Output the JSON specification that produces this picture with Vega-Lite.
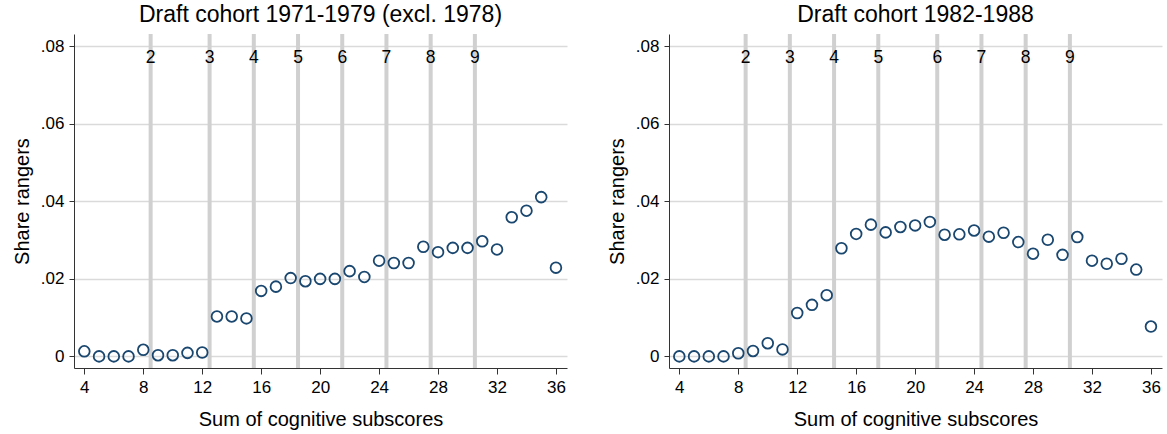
{
 "$schema": "https://vega.github.io/schema/vega-lite/v6.json",
 "padding": {"left": 12, "top": 4, "right": 5, "bottom": 5},
 "spacing": 40,
 "config": {
  "view": {"stroke": null},
  "font": "Liberation Sans",
  "title": {"fontSize": 23, "fontWeight": "normal", "color": "#000000", "offset": 5},
  "axis": {"labelFont": "Liberation Sans", "titleFont": "Liberation Sans", "labelColor": "#000000", "titleColor": "#000000", "titleFontWeight": "normal", "domainColor": "#333333", "tickColor": "#333333", "labelFontSize": 17, "titleFontSize": 20}
 },
 "datasets": {
  "pts": [
   {"cohort": "A", "score": 4, "share": 0.0013}, {"cohort": "A", "score": 5, "share": 0.0}, {"cohort": "A", "score": 6, "share": 0.0}, {"cohort": "A", "score": 7, "share": 0.0}, {"cohort": "A", "score": 8, "share": 0.0017}, {"cohort": "A", "score": 9, "share": 0.0003}, {"cohort": "A", "score": 10, "share": 0.0003}, {"cohort": "A", "score": 11, "share": 0.0009}, {"cohort": "A", "score": 12, "share": 0.001}, {"cohort": "A", "score": 13, "share": 0.0103}, {"cohort": "A", "score": 14, "share": 0.0103}, {"cohort": "A", "score": 15, "share": 0.0098}, {"cohort": "A", "score": 16, "share": 0.0169}, {"cohort": "A", "score": 17, "share": 0.018}, {"cohort": "A", "score": 18, "share": 0.0202}, {"cohort": "A", "score": 19, "share": 0.0194}, {"cohort": "A", "score": 20, "share": 0.02}, {"cohort": "A", "score": 21, "share": 0.02}, {"cohort": "A", "score": 22, "share": 0.022}, {"cohort": "A", "score": 23, "share": 0.0205}, {"cohort": "A", "score": 24, "share": 0.0247}, {"cohort": "A", "score": 25, "share": 0.0241}, {"cohort": "A", "score": 26, "share": 0.0241}, {"cohort": "A", "score": 27, "share": 0.0283}, {"cohort": "A", "score": 28, "share": 0.0269}, {"cohort": "A", "score": 29, "share": 0.028}, {"cohort": "A", "score": 30, "share": 0.028}, {"cohort": "A", "score": 31, "share": 0.0297}, {"cohort": "A", "score": 32, "share": 0.0276}, {"cohort": "A", "score": 33, "share": 0.0359}, {"cohort": "A", "score": 34, "share": 0.0376}, {"cohort": "A", "score": 35, "share": 0.0411}, {"cohort": "A", "score": 36, "share": 0.0229},
   {"cohort": "B", "score": 4, "share": 0.0}, {"cohort": "B", "score": 5, "share": 0.0}, {"cohort": "B", "score": 6, "share": 0.0}, {"cohort": "B", "score": 7, "share": 0.0}, {"cohort": "B", "score": 8, "share": 0.0008}, {"cohort": "B", "score": 9, "share": 0.0014}, {"cohort": "B", "score": 10, "share": 0.0034}, {"cohort": "B", "score": 11, "share": 0.0018}, {"cohort": "B", "score": 12, "share": 0.0112}, {"cohort": "B", "score": 13, "share": 0.0133}, {"cohort": "B", "score": 14, "share": 0.0158}, {"cohort": "B", "score": 15, "share": 0.0279}, {"cohort": "B", "score": 16, "share": 0.0316}, {"cohort": "B", "score": 17, "share": 0.034}, {"cohort": "B", "score": 18, "share": 0.032}, {"cohort": "B", "score": 19, "share": 0.0334}, {"cohort": "B", "score": 20, "share": 0.0338}, {"cohort": "B", "score": 21, "share": 0.0347}, {"cohort": "B", "score": 22, "share": 0.0314}, {"cohort": "B", "score": 23, "share": 0.0315}, {"cohort": "B", "score": 24, "share": 0.0325}, {"cohort": "B", "score": 25, "share": 0.0309}, {"cohort": "B", "score": 26, "share": 0.0319}, {"cohort": "B", "score": 27, "share": 0.0295}, {"cohort": "B", "score": 28, "share": 0.0265}, {"cohort": "B", "score": 29, "share": 0.0301}, {"cohort": "B", "score": 30, "share": 0.0262}, {"cohort": "B", "score": 31, "share": 0.0308}, {"cohort": "B", "score": 32, "share": 0.0247}, {"cohort": "B", "score": 33, "share": 0.0239}, {"cohort": "B", "score": 34, "share": 0.0252}, {"cohort": "B", "score": 35, "share": 0.0224}, {"cohort": "B", "score": 36, "share": 0.0077}
  ],
  "cuts": [
   {"cohort": "A", "cut": 8.5, "label": "2"}, {"cohort": "A", "cut": 12.5, "label": "3"}, {"cohort": "A", "cut": 15.5, "label": "4"}, {"cohort": "A", "cut": 18.5, "label": "5"}, {"cohort": "A", "cut": 21.5, "label": "6"}, {"cohort": "A", "cut": 24.5, "label": "7"}, {"cohort": "A", "cut": 27.5, "label": "8"}, {"cohort": "A", "cut": 30.5, "label": "9"},
   {"cohort": "B", "cut": 8.5, "label": "2"}, {"cohort": "B", "cut": 11.5, "label": "3"}, {"cohort": "B", "cut": 14.5, "label": "4"}, {"cohort": "B", "cut": 17.5, "label": "5"}, {"cohort": "B", "cut": 21.5, "label": "6"}, {"cohort": "B", "cut": 24.5, "label": "7"}, {"cohort": "B", "cut": 27.5, "label": "8"}, {"cohort": "B", "cut": 30.5, "label": "9"}
  ]
 },
 "hconcat": [
  {
   "title": "Draft cohort 1971-1979 (excl. 1978)",
   "width": 493, "height": 334,
   "encoding": {
    "x": {"type": "quantitative", "title": "Sum of cognitive subscores", "scale": {"domain": [3.3, 36.75], "nice": false, "zero": false}, "axis": {"values": [4, 8, 12, 16, 20, 24, 28, 32, 36], "grid": false, "tickSize": 6, "labelPadding": 5, "titlePadding": 14}},
    "y": {"type": "quantitative", "title": "Share rangers", "scale": {"domain": [-0.003, 0.0832], "nice": false, "zero": false}, "axis": {"values": [0, 0.02, 0.04, 0.06, 0.08], "labelExpr": "datum.value == 0 ? '0' : replace(format(datum.value, '.2f'), '0.', '.')", "grid": true, "gridColor": "#dadada", "gridWidth": 1.5, "tickSize": 5, "labelPadding": 5, "titlePadding": 8}}
   },
   "layer": [
    {"data": {"name": "cuts"}, "transform": [{"filter": "datum.cohort == 'A'"}], "mark": {"type": "rule", "color": "#d0d0d0", "strokeWidth": 4}, "encoding": {"x": {"field": "cut"}}},
    {"data": {"name": "pts"}, "transform": [{"filter": "datum.cohort == 'A'"}], "mark": {"type": "point", "shape": "circle", "filled": false, "stroke": "#1a476f", "strokeWidth": 1.8, "size": 115, "opacity": 1}, "encoding": {"x": {"field": "score"}, "y": {"field": "share"}}},
    {"data": {"name": "cuts"}, "transform": [{"filter": "datum.cohort == 'A'"}], "mark": {"type": "text", "fontSize": 17.5, "color": "#000000", "baseline": "middle", "align": "center"}, "encoding": {"x": {"field": "cut"}, "y": {"datum": 0.077}, "text": {"field": "label"}}}
   ]
  },
  {
   "title": "Draft cohort 1982-1988",
   "width": 493, "height": 334,
   "encoding": {
    "x": {"type": "quantitative", "title": "Sum of cognitive subscores", "scale": {"domain": [3.3, 36.75], "nice": false, "zero": false}, "axis": {"values": [4, 8, 12, 16, 20, 24, 28, 32, 36], "grid": false, "tickSize": 6, "labelPadding": 5, "titlePadding": 14}},
    "y": {"type": "quantitative", "title": "Share rangers", "scale": {"domain": [-0.003, 0.0832], "nice": false, "zero": false}, "axis": {"values": [0, 0.02, 0.04, 0.06, 0.08], "labelExpr": "datum.value == 0 ? '0' : replace(format(datum.value, '.2f'), '0.', '.')", "grid": true, "gridColor": "#dadada", "gridWidth": 1.5, "tickSize": 5, "labelPadding": 5, "titlePadding": 8}}
   },
   "layer": [
    {"data": {"name": "cuts"}, "transform": [{"filter": "datum.cohort == 'B'"}], "mark": {"type": "rule", "color": "#d0d0d0", "strokeWidth": 4}, "encoding": {"x": {"field": "cut"}}},
    {"data": {"name": "pts"}, "transform": [{"filter": "datum.cohort == 'B'"}], "mark": {"type": "point", "shape": "circle", "filled": false, "stroke": "#1a476f", "strokeWidth": 1.8, "size": 115, "opacity": 1}, "encoding": {"x": {"field": "score"}, "y": {"field": "share"}}},
    {"data": {"name": "cuts"}, "transform": [{"filter": "datum.cohort == 'B'"}], "mark": {"type": "text", "fontSize": 17.5, "color": "#000000", "baseline": "middle", "align": "center"}, "encoding": {"x": {"field": "cut"}, "y": {"datum": 0.077}, "text": {"field": "label"}}}
   ]
  }
 ]
}
